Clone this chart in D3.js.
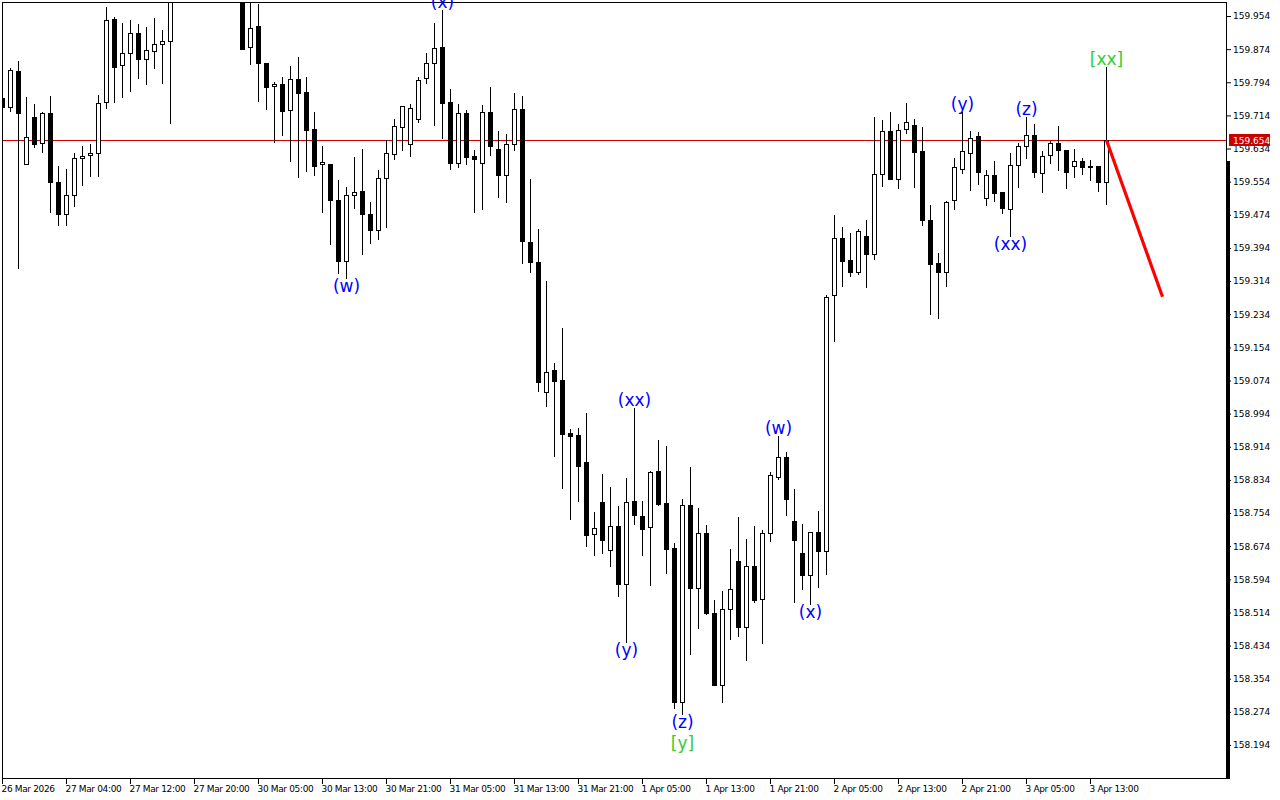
<!DOCTYPE html>
<html><head><meta charset="utf-8">
<script src="https://cdn.jsdelivr.net/npm/d3@7"></script>
<style>
html,body{margin:0;padding:0;background:#fff;}
svg{display:block;}
</style></head><body>
<svg id="c" width="1280" height="800"></svg>
<script>
// ---------- DATA (H1 candles) ----------
const open = [
159.756,159.734,159.821,159.597,159.710,159.647,159.720,159.553,159.476,159.522,
159.611,159.618,159.623,159.746,159.947,159.836,159.865,159.913,159.850,159.869,
159.886,159.894,160.041,160.070,160.055,160.085,160.110,160.065,160.045,160.060,
160.029,159.879,159.930,159.840,159.785,159.790,159.727,159.802,159.770,159.681,
159.597,159.597,159.510,159.362,159.522,159.531,159.476,159.437,159.563,159.621,
159.686,159.645,159.705,159.804,159.840,159.879,159.746,159.599,159.720,159.616,
159.599,159.722,159.633,159.570,159.645,159.729,159.408,159.360,159.046,159.099,
159.075,158.947,158.942,158.877,158.703,158.781,158.665,158.723,158.583,158.783,
158.747,158.720,158.855,158.778,158.669,158.298,158.773,158.573,158.706,158.513,
158.339,158.522,158.638,158.479,158.626,158.547,158.706,158.841,158.889,158.735,
158.657,158.604,158.708,158.662,159.280,159.418,159.365,159.336,159.423,159.379,
159.573,159.676,159.560,159.681,159.691,159.628,159.462,159.358,159.336,159.510,
159.585,159.623,159.664,159.515,159.570,159.529,159.488,159.594,159.640,159.667,
159.575,159.618,159.647,159.630,159.592,159.604,159.592,159.592,159.553
];
const high = [
159.775,159.828,159.845,159.758,159.742,159.722,159.761,159.592,159.585,159.623,
159.640,159.645,159.763,159.976,159.952,159.937,159.944,159.935,159.927,159.949,
159.920,160.089,160.095,160.120,160.100,160.140,160.135,160.090,160.080,160.085,
160.065,160.005,159.983,159.840,159.795,159.807,159.833,159.855,159.807,159.722,
159.640,159.597,159.558,159.541,159.614,159.633,159.505,159.582,159.654,159.705,
159.737,159.742,159.807,159.865,159.937,159.968,159.778,159.742,159.727,159.630,
159.739,159.783,159.676,159.669,159.768,159.761,159.560,159.440,159.314,159.116,
159.201,158.957,158.959,158.995,158.756,158.848,158.817,158.771,158.839,159.008,
158.783,158.855,158.930,158.916,158.682,158.788,158.865,158.766,158.725,158.544,
158.566,158.667,158.744,158.691,158.723,158.713,158.853,158.940,158.901,158.812,
158.728,158.708,158.759,159.280,159.474,159.445,159.430,159.440,159.462,159.710,
159.703,159.722,159.693,159.744,159.705,159.686,159.498,159.382,159.507,159.611,
159.722,159.676,159.674,159.582,159.604,159.529,159.623,159.647,159.710,159.693,
159.628,159.652,159.688,159.630,159.633,159.611,159.606,159.592,159.831
];
const low = [
159.727,159.725,159.346,159.597,159.638,159.625,159.481,159.449,159.449,159.495,
159.546,159.568,159.568,159.732,159.746,159.758,159.773,159.804,159.790,159.828,
159.792,159.696,160.010,160.040,160.020,160.060,160.050,160.020,160.000,160.015,
159.874,159.838,159.749,159.729,159.650,159.667,159.604,159.565,159.580,159.570,
159.481,159.404,159.334,159.321,159.490,159.379,159.406,159.416,159.445,159.609,
159.630,159.616,159.698,159.792,159.691,159.659,159.585,159.589,159.597,159.481,
159.488,159.618,159.517,159.505,159.630,159.358,159.336,159.049,159.012,158.892,
158.814,158.740,158.783,158.674,158.653,158.657,158.626,158.554,158.443,158.728,
158.653,158.580,158.773,158.609,158.283,158.269,158.414,158.476,158.510,158.339,
158.298,158.450,158.457,158.399,158.539,158.440,158.686,158.836,158.749,158.539,
158.571,158.534,158.575,158.607,159.169,159.302,159.326,159.331,159.300,159.367,
159.544,159.560,159.539,159.671,159.541,159.449,159.234,159.225,159.302,159.488,
159.575,159.534,159.548,159.498,159.507,159.478,159.423,159.541,159.611,159.565,
159.529,159.599,159.582,159.539,159.565,159.573,159.558,159.531,159.500
];
const close = [
159.734,159.824,159.720,159.662,159.645,159.720,159.553,159.476,159.522,159.611,
159.616,159.623,159.744,159.944,159.831,159.865,159.913,159.850,159.872,159.886,
159.894,160.041,160.070,160.055,160.085,160.110,160.065,160.045,160.060,160.030,
159.874,159.925,159.840,159.783,159.790,159.725,159.802,159.768,159.679,159.592,
159.601,159.510,159.362,159.522,159.529,159.476,159.437,159.563,159.623,159.688,
159.737,159.732,159.799,159.840,159.877,159.744,159.599,159.720,159.614,159.609,
159.722,159.640,159.570,159.645,159.729,159.411,159.360,159.070,159.094,159.073,
158.945,158.940,158.868,158.701,158.718,158.689,158.723,158.583,158.781,158.749,
158.715,158.853,158.776,158.667,158.298,158.773,158.573,158.706,158.513,158.339,
158.522,158.571,158.479,158.626,158.544,158.706,158.846,158.889,158.788,158.689,
158.604,158.708,158.662,159.276,159.418,159.362,159.336,159.435,159.379,159.573,
159.676,159.560,159.679,159.698,159.625,159.462,159.355,159.336,159.505,159.589,
159.628,159.659,159.577,159.570,159.527,159.490,159.594,159.640,159.667,159.577,
159.616,159.647,159.630,159.577,159.604,159.589,159.589,159.553,159.654
];
const yTicks = [159.954,159.874,159.794,159.714,159.634,159.554,159.474,159.394,159.314,159.234,
  159.154,159.074,158.994,158.914,158.834,158.754,158.674,158.594,158.514,158.434,158.354,158.274,158.194];
const xTickBars = [0,8,16,24,32,40,48,56,64,72,80,88,96,104,112,120,128,136];
const xTickLabels = ["26 Mar 2026","27 Mar 04:00","27 Mar 12:00","27 Mar 20:00","30 Mar 05:00","30 Mar 13:00",
  "30 Mar 21:00","31 Mar 05:00","31 Mar 13:00","31 Mar 21:00","1 Apr 05:00","1 Apr 13:00","1 Apr 21:00",
  "2 Apr 05:00","2 Apr 13:00","2 Apr 21:00","3 Apr 05:00","3 Apr 13:00"];
const bidPrice = 159.654;
const scaleBarFrom = 159.604;
const waveBars   = [43, 55, 79, 78, 85, 85, 97, 101, 120, 126, 128, 138];
const waveTexts  = ["(w)","(x)","(xx)","(y)","(z)","[y]","(w)","(x)","(y)","(xx)","(z)","[xx]"];
const waveSides  = ["below","above","above","below","below","below","above","below","above","below","above","above"];
const waveLines  = [0,0,0,0,0,1,0,0,0,0,0,0];
const waveDegree = ["minor","minor","minor","minor","minor","major","minor","minor","minor","minor","minor","major"];
const forecastBars = [138, 145];
const forecastPrices = [159.654, 159.276];

// ---------- DRAW ----------
const svg = d3.select("#c");
const x = d3.scaleLinear().domain([0, open.length - 1]).range([2, 1106]);
const y = d3.scaleLinear().domain([158.194, 159.954]).range([745, 16]);
const FONT = "DejaVu Sans";

svg.append("rect").attr("width",1280).attr("height",800).attr("fill","#fff");
svg.append("defs").append("clipPath").attr("id","clip")
  .append("rect").attr("x",3).attr("y",3).attr("width",1223).attr("height",775);

const plotG = svg.append("g").attr("clip-path","url(#clip)");

// bid line (behind candles)
const by = Math.round(y(bidPrice)) + 0.5;
plotG.append("line").attr("x1",2).attr("x2",1226).attr("y1",by).attr("y2",by)
  .attr("stroke","#d40000").attr("stroke-width",1);

const bars = d3.range(open.length).map(i => ({i, o:open[i], h:high[i], l:low[i], c:close[i]}));
plotG.selectAll("line.wick").data(bars).join("line").attr("class","wick")
  .attr("x1", d => x(d.i) + 0.5).attr("x2", d => x(d.i) + 0.5)
  .attr("y1", d => Math.round(y(d.h))).attr("y2", d => Math.round(y(d.l)) + 1)
  .attr("stroke","#000").attr("stroke-width",1);
plotG.selectAll("rect.body").data(bars).join("rect").attr("class","body")
  .attr("x", d => x(d.i) - 1.5).attr("width", 4)
  .attr("y", d => Math.round(y(Math.max(d.o,d.c))) + 0.5)
  .attr("height", d => Math.max(1, Math.round(y(Math.min(d.o,d.c))) - Math.round(y(Math.max(d.o,d.c)))))
  .attr("fill", d => d.c > d.o ? "#fff" : "#000")
  .attr("stroke","#000").attr("stroke-width",1);

// forecast line
plotG.append("line")
  .attr("x1", x(forecastBars[0]) + 0.5).attr("y1", y(forecastPrices[0]))
  .attr("x2", x(forecastBars[1]) + 0.5).attr("y2", y(forecastPrices[1]))
  .attr("stroke","#ff0000").attr("stroke-width",3.2);

// frame
svg.append("rect").attr("x",2.5).attr("y",2.5).attr("width",1224).attr("height",776)
  .attr("fill","none").attr("stroke","#000").attr("stroke-width",1);
// thick scale bar on right
svg.append("rect").attr("x",1226).attr("width",4)
  .attr("y", Math.round(y(scaleBarFrom))).attr("height", 779 - Math.round(y(scaleBarFrom)))
  .attr("fill","#000");

// y axis
const yAxis = d3.axisRight(y).tickValues(yTicks).tickSize(4).tickPadding(2).tickFormat(d3.format(".3f"));
const yg = svg.append("g").attr("transform","translate(1227,0)").call(yAxis);
yg.select(".domain").remove();
yg.attr("font-family",FONT).attr("font-size",9);
yg.selectAll("text").attr("fill","#000");
yg.selectAll("line").attr("stroke","#000");

// x axis
const xAxis = d3.axisBottom(x).tickValues(xTickBars).tickSize(5).tickPadding(2)
  .tickFormat((d,i) => xTickLabels[i]);
const xg = svg.append("g").attr("transform","translate(0,779)").call(xAxis);
xg.select(".domain").remove();
xg.attr("font-family",FONT).attr("font-size",9);
xg.selectAll("text").attr("text-anchor","start").attr("x",-1)
  .attr("letter-spacing","-0.35px").attr("fill","#000");
xg.selectAll("line").attr("stroke","#000");

// bid price label
const bidG = svg.append("g");
bidG.append("rect").attr("x",1229).attr("y",Math.round(y(bidPrice))-6).attr("width",41).attr("height",12)
  .attr("fill","#c80000");
bidG.append("text").attr("x",1233).attr("y",Math.round(y(bidPrice))+0.5).attr("dy","0.34em")
  .attr("font-family",FONT).attr("font-size",9).attr("fill","#fff").text(d3.format(".3f")(bidPrice));

// wave labels
const waves = waveBars.map((b,k) => ({b, t:waveTexts[k], side:waveSides[k], line:waveLines[k], deg:waveDegree[k]}));
svg.append("g").selectAll("text").data(waves).join("text")
  .attr("x", d => x(d.b) + 0.5)
  .attr("y", d => d.side === "above" ? y(high[d.b]) - 2 : y(low[d.b]) + 14 + d.line * 21)
  .attr("text-anchor","middle")
  .attr("font-family",FONT).attr("font-size",17)
  .attr("fill", d => d.deg === "major" ? "#32cd32" : "#0000ff")
  .text(d => d.t);
</script>
</body></html>
